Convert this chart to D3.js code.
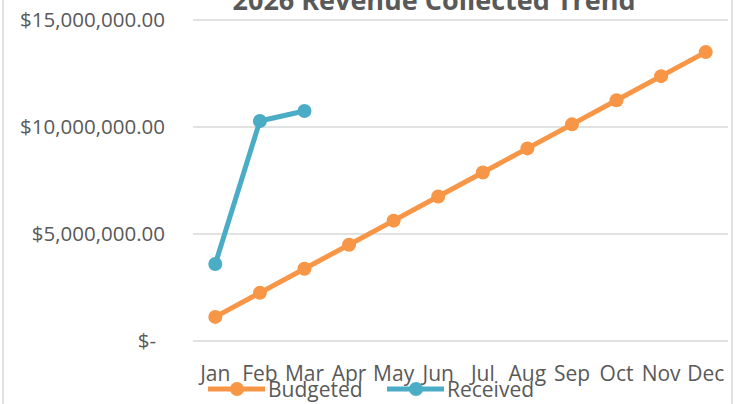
<!DOCTYPE html>
<html>
<head>
<meta charset="utf-8">
<script src="https://cdn.jsdelivr.net/npm/d3@7"></script>
<style>
  body { margin: 0; background: #fff; }
  svg text { font-family: "Open Sans", sans-serif; fill: #595959; }
</style>
</head>
<body>
<svg id="plot"></svg>
<script>
// data
const months = ["Jan", "Feb", "Mar", "Apr", "May", "Jun", "Jul", "Aug", "Sep", "Oct", "Nov", "Dec"];
const budgeted = [1125000, 2250000, 3375000, 4500000, 5625000, 6750000, 7875000, 9000000, 10125000, 11250000, 12375000, 13500000];
const received = [3600000, 10280000, 10750000];
const yTicks = [0, 5000000, 10000000, 15000000];

let width = 741;
let height = 404;
let margin = { top: 20, bottom: 63, left: 193, right: 13 };

let svg = d3.select('#plot')
    .attr('width', width)
    .attr('height', height)
    .style('background', '#FFFFFF');

// chart frame (only the sides show)
svg.append('rect')
    .attr('x', 3).attr('y', -5)
    .attr('width', 729).attr('height', 420)
    .attr('fill', 'none')
    .attr('stroke', '#d9d9d9')
    .attr('stroke-width', 1.5);

let xScale = d3.scaleBand()
    .domain(months)
    .range([margin.left, width - margin.right]);

let yScale = d3.scaleLinear()
    .domain([0, 15000000])
    .range([height - margin.bottom, margin.top]);

// gridlines
svg.append('g')
    .selectAll('line')
    .data(yTicks)
    .enter()
    .append('line')
    .attr('x1', margin.left)
    .attr('x2', width - margin.right)
    .attr('y1', d => yScale(d))
    .attr('y2', d => yScale(d))
    .attr('stroke', '#d9d9d9')
    .attr('stroke-width', 1.5);

// y axis labels
let yAxis = svg.append('g')
    .attr('transform', `translate(165, 0)`)
    .call(d3.axisLeft(yScale).tickValues(yTicks).tickSize(0).tickPadding(0)
        .tickFormat(d => d === 0 ? "$-" : "$" + d3.format(",.2f")(d)));
yAxis.select('.domain').remove();
yAxis.selectAll('text')
    .style('font-size', '20.5px')
    .attr('fill', '#595959')
    .attr('dx', d => d === 0 ? -9 : 0);

// x axis labels
let xAxis = svg.append('g')
    .attr('transform', `translate(0, ${height - margin.bottom})`)
    .call(d3.axisBottom(xScale).tickSize(0));
xAxis.select('.domain').remove();
xAxis.selectAll('text')
    .attr('y', 40)
    .attr('dy', 0)
    .style('font-size', '21px')
    .attr('fill', '#595959');

const cx = d => xScale(d) + xScale.bandwidth() / 2;

function drawSeries(values, color) {
    const pts = values.map((v, i) => [cx(months[i]), yScale(v)]);
    svg.append('path')
        .attr('d', d3.line()(pts))
        .attr('fill', 'none')
        .attr('stroke', color)
        .attr('stroke-width', 5)
        .attr('stroke-linejoin', 'round');
    svg.append('g')
        .selectAll('circle')
        .data(pts)
        .enter()
        .append('circle')
        .attr('cx', d => d[0])
        .attr('cy', d => d[1])
        .attr('r', 7)
        .attr('fill', color);
}

drawSeries(budgeted, '#F79646');
drawSeries(received, '#4BACC6');

// title (cut off at top)
svg.append('text')
    .attr('x', 434)
    .attr('y', 10)
    .attr('text-anchor', 'middle')
    .style('font-size', '27px')
    .style('font-weight', 'bold')
    .text('2026 Revenue Collected Trend');

// legend
const legendItems = [
    { name: "Budgeted", color: "#F79646", x: 208 },
    { name: "Received", color: "#4BACC6", x: 387 }
];
let legend = svg.append('g').attr('class', 'legend');
legendItems.forEach(item => {
    legend.append('line')
        .attr('x1', item.x).attr('x2', item.x + 57)
        .attr('y1', 389).attr('y2', 389)
        .attr('stroke', item.color)
        .attr('stroke-width', 5);
    legend.append('circle')
        .attr('cx', item.x + 29).attr('cy', 389)
        .attr('r', 7)
        .attr('fill', item.color);
    legend.append('text')
        .attr('x', item.x + 60)
        .attr('y', 397)
        .style('font-size', '21px')
        .text(item.name);
});
</script>
</body>
</html>
